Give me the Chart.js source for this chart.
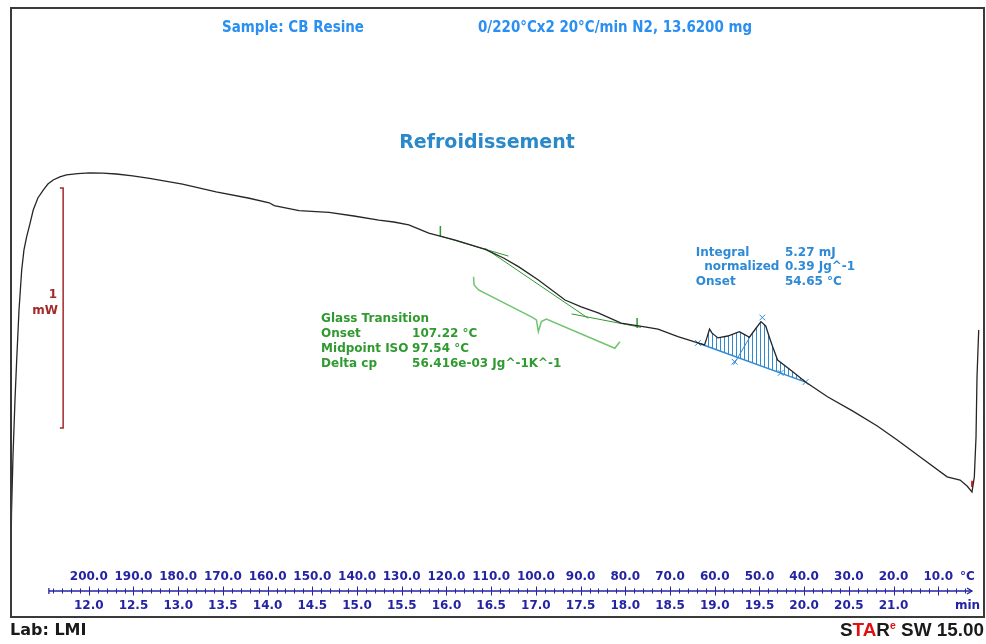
<!DOCTYPE html>
<html><head><meta charset="utf-8">
<script src="https://cdn.jsdelivr.net/npm/chart.js@4"></script>
<style>html,body{margin:0;padding:0;background:#fff}canvas{display:block}</style>
</head><body>
<canvas id="c" width="986" height="644"></canvas>
<script>
// ---------- data (time in min, heat flow in mW, arbitrary offset) ----------
const timeMin = [11.130,11.136,11.153,11.175,11.194,11.220,11.250,11.275,11.305,11.342,11.379,11.431,11.491,11.543,11.602,11.677,11.751,11.877,12.011,12.156,12.309,12.491,12.680,13.048,13.424,13.795,14.018,14.074,14.352,14.687,14.965,15.244,15.411,15.579,15.802,16.099,16.434,16.638,16.805,17.028,17.326,17.507,17.697,17.953,18.217,18.366,18.589,18.812,18.886,18.912,18.942,18.968,19.035,19.146,19.276,19.324,19.388,19.447,19.517,19.570,19.614,19.648,19.703,19.848,20.016,20.261,20.540,20.818,21.041,21.298,21.599,21.744,21.822,21.877,21.903,21.922,21.933,21.952];
const heatFlowMw = [0.042,0.238,0.479,0.708,0.875,1.083,1.250,1.333,1.388,1.442,1.500,1.550,1.583,1.608,1.625,1.638,1.646,1.652,1.655,1.654,1.650,1.642,1.632,1.608,1.576,1.549,1.530,1.518,1.497,1.490,1.475,1.458,1.450,1.438,1.404,1.375,1.336,1.300,1.264,1.208,1.125,1.096,1.071,1.029,1.013,1.004,0.972,0.946,0.938,0.967,1.004,0.988,0.967,0.975,0.993,0.983,0.970,1.000,1.035,1.017,0.967,0.930,0.875,0.833,0.783,0.722,0.663,0.600,0.542,0.471,0.388,0.375,0.350,0.325,0.388,0.554,0.804,1.000];

// glass transition construction lines (time, mW)
const gtUpperT = [15.924, 16.693];   const gtUpperV = [1.392, 1.308];
const gtMidT   = [16.434, 17.585];   const gtMidV   = [1.340, 1.049];
const gtLowerT = [17.399, 18.176];   const gtLowerV = [1.067, 1.011];
const gtTick1T = [15.932, 15.932];   const gtTick1V = [1.433, 1.392];
const gtTick2T = [18.132, 18.132];   const gtTick2V = [1.050, 1.008];
const braceT = [16.303, 16.309, 16.359, 16.950, 17.006, 17.028, 17.061, 17.117, 17.883, 17.939];
const braceV = [1.222, 1.188, 1.167, 1.055, 1.042, 0.993, 1.035, 1.046, 0.924, 0.951];

// crystallisation peak integration
const peakBaseT = [18.812, 20.016];  const peakBaseV = [0.946, 0.783];
const peakOnsetT = [19.210, 19.400]; const peakOnsetV = [0.855, 0.975];
const peakMarkT = [18.812, 20.016, 19.532, 19.221, 19.737];
const peakMarkV = [0.946, 0.783, 1.052, 0.868, 0.821];

// scale bar (1 mW) and end marker
const barT = [11.677, 11.7135, 11.7135, 11.677]; const barV = [1.592, 1.592, 0.592, 0.592];
const endMarkT = [21.877, 21.877]; const endMarkV = [0.372, 0.346];

// axes
const timeTickLabels = ['12.0','12.5','13.0','13.5','14.0','14.5','15.0','15.5','16.0','16.5','17.0','17.5','18.0','18.5','19.0','19.5','20.0','20.5','21.0'];
const tempTickLabels = ['200.0','190.0','180.0','170.0','160.0','150.0','140.0','130.0','120.0','110.0','100.0','90.0','80.0','70.0','60.0','50.0','40.0','30.0','20.0','10.0'];
const axisRange = [11.554, 21.877];
const xRange = [11.1304, 21.9777];
const yRange = [0, 2.3417];

// text annotations
const glassLabels = ['Glass Transition','Onset','Midpoint ISO','Delta cp'];
const glassValues = ['','107.22 °C','97.54 °C','56.416e-03 Jg^-1K^-1'];
const glassAnchor = {t:14.598, v:1.0458, tv:15.615};
const peakLabels = ['Integral','  normalized','Onset'];
const peakValues = ['5.27 mJ','0.39 Jg^-1','54.65 °C'];
const peakAnchor = {t:18.789, v:1.322, tv:19.785};

// ---------- helpers ----------
const pts = (xs, ys) => xs.map((x,i)=>({x:x, y:ys[i]}));
const tempOf = t => 200 - 20*(t - 12);
const curve = pts(timeMin, heatFlowMw);
const peakCurve = curve.filter(p => p.x >= peakBaseT[0] && p.x <= peakBaseT[1]);

const pc = document.createElement('canvas'); pc.width = 4; pc.height = 4;
const pcx = pc.getContext('2d'); pcx.fillStyle = '#2f8ad6'; pcx.fillRect(0,0,1,4);
const hatch = pcx.createPattern(pc, 'repeat');

const GREEN = '#2f9a2f', BLUE = '#2f8ad6', AXIS = '#2323a3', RED = '#a32a2a';
const F = '"DejaVu Sans", Verdana, sans-serif';

function lineDs(data, color, w, extra){ return Object.assign({data, xAxisID:'x', yAxisID:'y', borderColor:color, borderWidth:w, pointRadius:0, fill:false, tension:0}, extra||{}); }

const decor = {
  id:'decor',
  afterDraw(chart){
    const ctx = chart.ctx, xs = chart.scales.x, ys = chart.scales.y, xt = chart.scales.xT;
    ctx.save();
    // frame
    ctx.strokeStyle = '#3a3a3a'; ctx.lineWidth = 2;
    ctx.strokeRect(11, 8, 973, 609);
    // header
    ctx.fillStyle = '#2a8ff0'; ctx.font = 'bold 15px ' + F; ctx.textBaseline = 'middle'; ctx.textAlign = 'left';
    ctx.fillText('Sample: CB Resine', 222, 28, 142);
    ctx.fillText('0/220°Cx2 20°C/min N2, 13.6200 mg', 478, 28, 274);
    ctx.fillStyle = '#2c89c9'; ctx.font = 'bold 19px ' + F; ctx.textAlign = 'center';
    ctx.fillText('Refroidissement', 487, 143);
    // axis line + ticks
    const ay = xs.top;
    const a0 = xs.getPixelForValue(axisRange[0]), a1 = xs.getPixelForValue(axisRange[1]);
    ctx.strokeStyle = AXIS; ctx.lineWidth = 1.3;
    ctx.beginPath(); ctx.moveTo(a0, ay); ctx.lineTo(a1, ay); ctx.stroke();
    ctx.beginPath(); ctx.moveTo(a1-5, ay-3); ctx.lineTo(a1, ay); ctx.lineTo(a1-5, ay+3); ctx.stroke();
    ctx.beginPath(); ctx.moveTo(a0, ay-3); ctx.lineTo(a0, ay+3); ctx.stroke();
    ctx.lineWidth = 1;
    xs.ticks.forEach(tk => {
      const px = Math.round(xs.getPixelForValue(tk.value)) + 0.5;
      const major = Math.abs(tk.value*2 - Math.round(tk.value*2)) < 1e-6;
      const l = major ? 4.5 : 2.5;
      ctx.beginPath(); ctx.moveTo(px, ay-l); ctx.lineTo(px, ay+l); ctx.stroke();
    });
    ctx.fillStyle = AXIS; ctx.font = 'bold 12px ' + F; ctx.textAlign = 'left';
    ctx.fillText('°C', 960, xt.top + 7.2);
    ctx.fillText('min', 955, xs.top + 15.2);
    // scale bar label
    ctx.fillStyle = RED; ctx.font = 'bold 12px ' + F; ctx.textAlign = 'right';
    const bm = ys.getPixelForValue((barV[0]+barV[2])/2);
    ctx.fillText('1', 57, bm - 13); ctx.fillText('mW', 58, bm + 3);
    // glass transition text
    ctx.fillStyle = GREEN; ctx.textAlign = 'left'; ctx.font = 'bold 12px ' + F;
    let gx = xs.getPixelForValue(glassAnchor.t), gvx = xs.getPixelForValue(glassAnchor.tv), gy = ys.getPixelForValue(glassAnchor.v);
    glassLabels.forEach((s,i)=>{ ctx.fillText(s, gx, gy + i*14.8); if (glassValues[i]) ctx.fillText(glassValues[i], gvx, gy + i*14.8); });
    // peak text
    ctx.fillStyle = BLUE;
    let px0 = xs.getPixelForValue(peakAnchor.t), pvx = xs.getPixelForValue(peakAnchor.tv), py = ys.getPixelForValue(peakAnchor.v);
    peakLabels.forEach((s,i)=>{ ctx.fillText(s, px0, py + i*14.5); ctx.fillText(peakValues[i], pvx, py + i*14.5); });
    // footer
    ctx.fillStyle = '#1a1a1a'; ctx.font = 'bold 16px ' + F; ctx.textAlign = 'left';
    ctx.fillText('Lab: LMI', 10, 631, 77);
    // STARe SW 15.00
    const parts = [['S','#1a1a1a',18,0],['TA','#e01010',18,0],['R','#1a1a1a',18,0],['e','#e01010',10,-5],[' SW 15.00','#1a1a1a',18,0]];
    let tot = 0; parts.forEach(p=>{ ctx.font='bold '+p[2]+'px "Liberation Sans", Arial, sans-serif'; p.w = ctx.measureText(p[0]).width; tot += p.w; });
    const sc = 144 / tot; ctx.translate(840, 631); ctx.scale(sc, 1);
    let cx = 0; parts.forEach(p=>{ ctx.font='bold '+p[2]+'px "Liberation Sans", Arial, sans-serif'; ctx.fillStyle=p[1]; ctx.fillText(p[0], cx, p[3]); cx += p.w; });
    ctx.restore();
  }
};

new Chart(document.getElementById('c'), {
  type:'line',
  data:{ datasets:[
    lineDs(curve, '#262626', 1.3),
    lineDs(pts(gtUpperT, gtUpperV), GREEN, 1),
    lineDs(pts(gtMidT, gtMidV), GREEN, 1),
    lineDs(pts(gtLowerT, gtLowerV), GREEN, 1),
    lineDs(pts(gtTick1T, gtTick1V), GREEN, 1.5),
    lineDs(pts(gtTick2T, gtTick2V), GREEN, 1.5),
    lineDs(pts(braceT, braceV), '#6fc46f', 1.5),
    lineDs(pts(peakOnsetT, peakOnsetV), BLUE, 1),
    lineDs(pts(peakMarkT, peakMarkV), BLUE, 0, {showLine:false, pointRadius:4, pointStyle:'crossRot', pointBorderColor:BLUE, pointBorderWidth:1}),
    lineDs(peakCurve, 'rgba(0,0,0,0)', 0, {fill:{target:10}, backgroundColor:hatch}),
    lineDs(pts(peakBaseT, peakBaseV), BLUE, 1.5),
    lineDs(pts(barT, barV), RED, 1.5),
    lineDs(pts(endMarkT, endMarkV), '#ff2020', 2)
  ]},
  options:{
    responsive:false, animation:false, devicePixelRatio:1,
    layout:{padding:{left:11, right:2, top:8, bottom:27}},
    plugins:{legend:{display:false}, tooltip:{enabled:false}, title:{display:false}},
    scales:{
      x:{type:'linear', position:'bottom', weight:1, min:xRange[0], max:xRange[1],
          grid:{display:false, drawTicks:false}, border:{display:false},
          afterBuildTicks(s){ const a=[]; for(let k=116;k<=218;k++) a.push({value:k/10}); s.ticks=a; },
          afterFit(s){ s.height = 26; },
          ticks:{autoSkip:false, maxRotation:0, padding:8, color:AXIS, font:{family:F, weight:'bold', size:12},
                 callback:(v)=>{ const l = timeTickLabels.find(x=>Math.abs(parseFloat(x)-v)<1e-6); return l||''; }}},
      y:{type:'linear', display:false, min:yRange[0], max:yRange[1]},
      xT:{type:'linear', axis:'x', position:'bottom', weight:0, reverse:true,
          min:tempOf(xRange[1]), max:tempOf(xRange[0]),
          grid:{display:false, drawTicks:false}, border:{display:false},
          afterBuildTicks(s){ s.ticks = tempTickLabels.map(l=>({value:parseFloat(l)})); },
          afterFit(s){ s.height = 21; },
          ticks:{autoSkip:false, maxRotation:0, padding:0, color:AXIS, font:{family:F, weight:'bold', size:12},
                 callback:(v)=>{ const l = tempTickLabels.find(x=>Math.abs(parseFloat(x)-v)<1e-6); return l||''; }}}
    }
  },
  plugins:[decor]
});
</script>
</body></html>
